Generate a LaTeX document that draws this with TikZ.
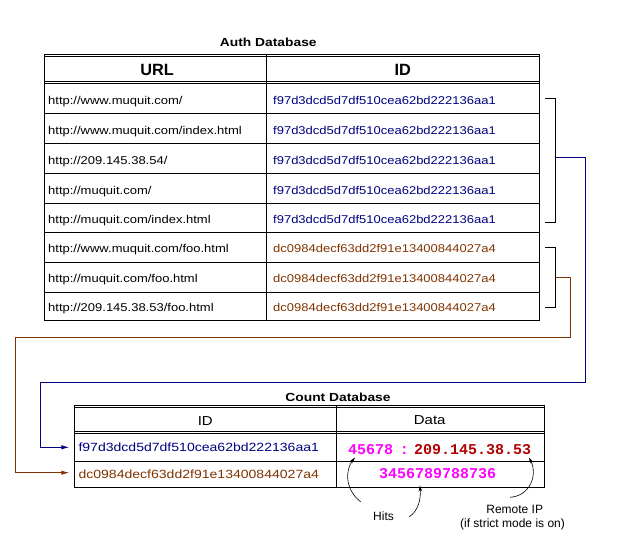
\documentclass[tikz,border=0pt]{standalone}
\usepackage{fontspec}
\setmainfont{Liberation Sans}
\newfontfamily\hvw[FakeStretch=1.15]{Liberation Sans}
\newfontfamily\hvx[FakeStretch=1.18]{Liberation Sans}
\newfontfamily\monofam{Liberation Mono}
\usetikzlibrary{arrows.meta}
\definecolor{idblue}{HTML}{000080}
\definecolor{idbrown}{HTML}{803300}
\definecolor{ipred}{HTML}{B00000}
\definecolor{hitmag}{HTML}{FF00FF}
\begin{document}
\begin{tikzpicture}[x=1pt,y=-1pt,
  grid/.style={line width=0.9pt, black},
  urltext/.style={anchor=base west, inner sep=0pt, font=\hvw\fontsize{11.3}{13}\selectfont},
  authblue/.style={urltext, text=idblue},
  authbrown/.style={urltext, text=idbrown},
  cidtext/.style={anchor=base west, inner sep=0pt, font=\hvx\fontsize{11.9}{13}\selectfont},
  title/.style={anchor=base, inner sep=0pt, font=\hvx\bfseries\fontsize{11.7}{13}\selectfont},
  authhead/.style={anchor=base, inner sep=0pt, font=\bfseries\fontsize{16.3}{18}\selectfont},
  counthead/.style={anchor=base, inner sep=0pt, font=\hvw\fontsize{13}{15}\selectfont},
  monotext/.style={anchor=base west, inner sep=0pt, font=\monofam\bfseries\fontsize{15}{17}\selectfont},
  label/.style={anchor=base, inner sep=0pt, font=\fontsize{12}{14}\selectfont},
  conn/.style={line width=0.9pt},
  tipconn/.style={-{Latex[length=8pt,width=4.5pt]}},
  pointer/.style={line width=0.6pt, black, -{Stealth[length=6pt,width=3.5pt]}}
]
\useasboundingbox (0,0) rectangle (628,543);

% ---------- Auth Database table ----------
\node[title] (authtitle) at (268.3,46.7) {Auth Database};
\draw[grid] (44,54.3) -- (539,54.3);
\draw[grid] (44,56.6) -- (539,56.6);
\draw[grid] (44,81.6) -- (539,81.6);
\draw[grid] (44,83.9) -- (539,83.9);
\foreach \yy in {113.3,143.3,173.3,203.3,232.3,262.3,292.3}
  \draw[grid] (44,\yy) -- (539,\yy);
\draw[grid] (44,54.3) -- (44,320.3) -- (539,320.3) -- (539,54.3);
\draw[grid] (266.7,54.3) -- (266.7,320.3);

\node[authhead] (hurl) at (157,75) {URL};
\node[authhead] (hid) at (402.7,75) {ID};

\node[urltext] (u1) at (48,104) {http://www.muquit.com/};
\node[urltext] (u2) at (48,134) {http://www.muquit.com/index.html};
\node[urltext] (u3) at (48,164) {http://209.145.38.54/};
\node[urltext] (u4) at (48,194) {http://muquit.com/};
\node[urltext] (u5) at (48,223.3) {http://muquit.com/index.html};
\node[urltext] (u6) at (48,252.8) {http://www.muquit.com/foo.html};
\node[urltext] (u7) at (48,282.6) {http://muquit.com/foo.html};
\node[urltext] (u8) at (48,311.6) {http://209.145.38.53/foo.html};

\node[authblue] (h1) at (273,104) {f97d3dcd5d7df510cea62bd222136aa1};
\node[authblue] (h2) at (273,134) {f97d3dcd5d7df510cea62bd222136aa1};
\node[authblue] (h3) at (273,164) {f97d3dcd5d7df510cea62bd222136aa1};
\node[authblue] (h4) at (273,194) {f97d3dcd5d7df510cea62bd222136aa1};
\node[authblue] (h5) at (273,223.3) {f97d3dcd5d7df510cea62bd222136aa1};
\node[authbrown] (h6) at (273,252.8) {dc0984decf63dd2f91e13400844027a4};
\node[authbrown] (h7) at (273,282.6) {dc0984decf63dd2f91e13400844027a4};
\node[authbrown] (h8) at (273,311.6) {dc0984decf63dd2f91e13400844027a4};

% ---------- brackets ----------
\draw[grid] (545,98.3) -- (555.7,98.3) -- (555.7,222.3) -- (545,222.3);
\coordinate (b1m) at (555.7,157);
\draw[grid] (545,247.3) -- (555.7,247.3) -- (555.7,307) -- (545,307);
\coordinate (b2m) at (555.7,277.3);

% ---------- Count Database table ----------
\node[title] (counttitle) at (338,401.7) {Count Database};
\draw[grid] (74.3,405) -- (544.5,405);
\draw[grid] (74.3,407.3) -- (544.5,407.3);
\draw[grid] (74.3,431) -- (544.5,431);
\draw[grid] (74.3,433.4) -- (544.5,433.4);
\draw[grid] (74.3,461) -- (544.5,461);
\draw[grid] (74.3,405) -- (74.3,487.7) -- (544.5,487.7) -- (544.5,405);
\draw[grid] (336.7,405) -- (336.7,487.7);

\node[counthead] (cid) at (205.3,425) {ID};
\node[counthead] (cdata) at (429.7,424.3) {Data};

\node[cidtext, text=idblue] (cid1) at (78.3,451.7) {f97d3dcd5d7df510cea62bd222136aa1};
\node[cidtext, text=idbrown] (cid2) at (78.3,478.3) {dc0984decf63dd2f91e13400844027a4};

\node[monotext, text=hitmag] (hits1) at (348,454.3) {45678};
\node[anchor=base, inner sep=0pt, font=\monofam\bfseries\fontsize{15}{17}\selectfont, text=hitmag] (colon) at (404.3,454.3) {:};
\node[monotext, text=ipred] (ip) at (414,454.3) {209.145.38.53};
\node[monotext, text=hitmag] (hits2) at (379,478.3) {3456789788736};

% ---------- connectors ----------
\coordinate (e1) at (69.3,447.3);
\coordinate (e2) at (69.3,472.7);
\draw[conn, idblue, tipconn] (b1m) -| (585,382.3) -| (40,447.3) -- (e1);
\draw[conn, idbrown, tipconn] (b2m) -| (570.7,337) -| (15.3,472.7) -- (e2);

% ---------- labels and pointers ----------
\node[label] (hits) at (383.5,520) {Hits};
\node[label] (rip) at (514.7,513.3) {Remote IP};
\node[label] (strict) at (512.5,527.5) {(if strict mode is on)};

\coordinate (p1s) at (360.7,501.7);
\coordinate (p1e) at (355,457.5);
\coordinate (p2s) at (409.3,516.7);
\coordinate (p2e) at (420,485.5);
\coordinate (p3s) at (510,497.3);
\coordinate (p3e) at (529,457.5);
\draw[pointer] (p1s) .. controls (345,490) and (345,470) .. (p1e);
\draw[pointer] (p2s) .. controls (418,511) and (421,500) .. (p2e);
\draw[pointer] (p3s) .. controls (530,496) and (538,475) .. (p3e);
\end{tikzpicture}
\end{document}
